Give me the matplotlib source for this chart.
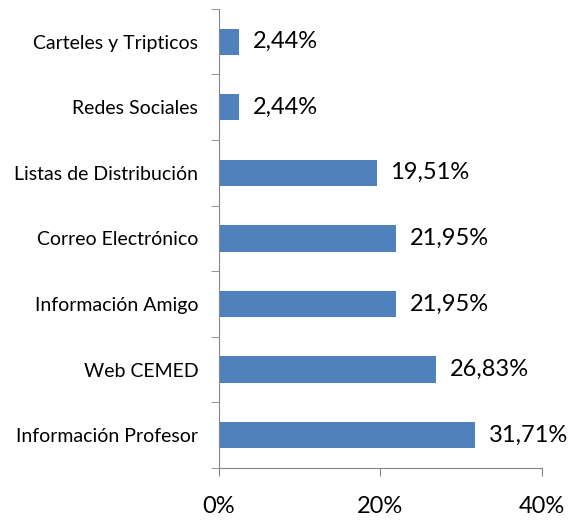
import numpy as np
import matplotlib
matplotlib.use('Agg')
import matplotlib.pyplot as plt

# Datos (de abajo hacia arriba)
categorias = ['Información Profesor', 'Web CEMED', 'Información Amigo',
              'Correo Electrónico', 'Listas de Distribución', 'Redes Sociales',
              'Carteles y Tripticos']
valores = [31.71, 26.83, 21.95, 21.95, 19.51, 2.44, 2.44]
ticks_x = [0, 20, 40]
etiquetas_x = ['0%', '20%', '40%']

plt.rcParams['font.family'] = ['Lato', 'DejaVu Sans']

fig = plt.figure(figsize=(5.84, 5.2), dpi=100)
ax = fig.add_axes([0.375, 0.1, 0.553, 0.883])

y = np.arange(len(categorias))
ax.barh(y, valores, height=0.4, color='#4F81BD')

for yi, v in zip(y, valores):
    texto = f'{v:.2f}%'.replace('.', ',')
    ax.annotate(texto, (v, yi), xytext=(10, 0), textcoords='offset points',
                va='center', ha='left', fontsize=17, color='black')

ax.set_xlim(0, 40)
ax.set_ylim(-0.5, len(categorias) - 0.5)
ax.set_xticks(ticks_x)
ax.set_xticklabels(etiquetas_x, fontsize=17)
ax.set_yticks(y)
ax.set_yticklabels(categorias, fontsize=14)
ax.tick_params(axis='y', length=0, pad=15)
ax.tick_params(axis='x', length=6, color='#868686', pad=14)

# marcas menores entre categorías en el eje vertical
ax.set_yticks(np.arange(-0.5, len(categorias), 1), minor=True)
ax.tick_params(axis='y', which='minor', length=6, color='#868686')

for lado in ['top', 'right']:
    ax.spines[lado].set_visible(False)
for lado in ['left', 'bottom']:
    ax.spines[lado].set_color('#868686')

fig.savefig('out.png', dpi=100)
